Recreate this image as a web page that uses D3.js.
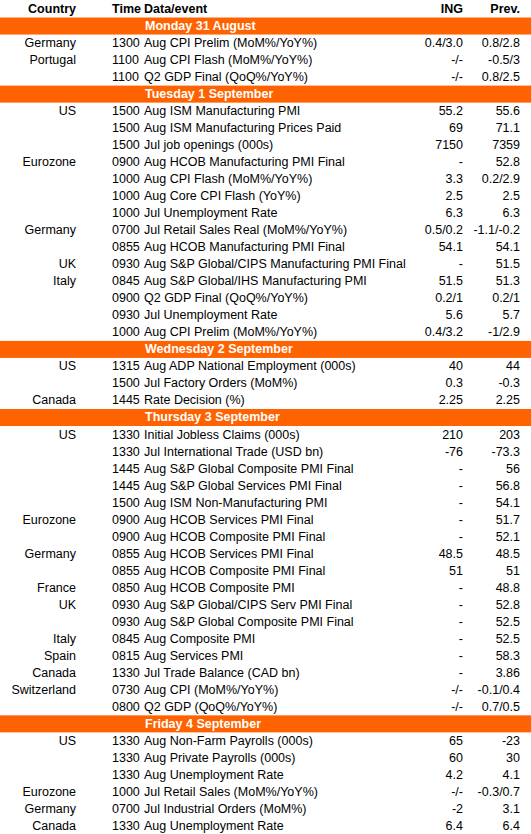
<!DOCTYPE html><html><head><meta charset="utf-8">
<script src="https://cdn.jsdelivr.net/npm/d3@7"></script>
<style>body{margin:0;background:#fff}</style></head><body><svg id="c" width="531" height="834"></svg>
<script>
const columns = ["Country","Time","Data/event","ING","Prev."];
const days = ["Monday 31 August","Tuesday 1 September","Wednesday 2 September","Thursday 3 September","Friday 4 September"];
const monday = [
["Germany","1300","Aug CPI Prelim (MoM%/YoY%)","0.4/3.0","0.8/2.8"],
["Portugal","1100","Aug CPI Flash (MoM%/YoY%)","-/-","-0.5/3"],
["","1100","Q2 GDP Final (QoQ%/YoY%)","-/-","0.8/2.5"]];
const tuesday = [
["US","1500","Aug ISM Manufacturing PMI","55.2","55.6"],
["","1500","Aug ISM Manufacturing Prices Paid","69","71.1"],
["","1500","Jul job openings (000s)","7150","7359"],
["Eurozone","0900","Aug HCOB Manufacturing PMI Final","-","52.8"],
["","1000","Aug CPI Flash (MoM%/YoY%)","3.3","0.2/2.9"],
["","1000","Aug Core CPI Flash (YoY%)","2.5","2.5"],
["","1000","Jul Unemployment Rate","6.3","6.3"],
["Germany","0700","Jul Retail Sales Real (MoM%/YoY%)","0.5/0.2","-1.1/-0.2"],
["","0855","Aug HCOB Manufacturing PMI Final","54.1","54.1"],
["UK","0930","Aug S&P Global/CIPS Manufacturing PMI Final","-","51.5"],
["Italy","0845","Aug S&P Global/IHS Manufacturing PMI","51.5","51.3"],
["","0900","Q2 GDP Final (QoQ%/YoY%)","0.2/1","0.2/1"],
["","0930","Jul Unemployment Rate","5.6","5.7"],
["","1000","Aug CPI Prelim (MoM%/YoY%)","0.4/3.2","-1/2.9"]];
const wednesday = [
["US","1315","Aug ADP National Employment (000s)","40","44"],
["","1500","Jul Factory Orders (MoM%)","0.3","-0.3"],
["Canada","1445","Rate Decision (%)","2.25","2.25"]];
const thursday = [
["US","1330","Initial Jobless Claims (000s)","210","203"],
["","1330","Jul International Trade (USD bn)","-76","-73.3"],
["","1445","Aug S&P Global Composite PMI Final","-","56"],
["","1445","Aug S&P Global Services PMI Final","-","56.8"],
["","1500","Aug ISM Non-Manufacturing PMI","-","54.1"],
["Eurozone","0900","Aug HCOB Services PMI Final","-","51.7"],
["","0900","Aug HCOB Composite PMI Final","-","52.1"],
["Germany","0855","Aug HCOB Services PMI Final","48.5","48.5"],
["","0855","Aug HCOB Composite PMI Final","51","51"],
["France","0850","Aug HCOB Composite PMI","-","48.8"],
["UK","0930","Aug S&P Global/CIPS Serv PMI Final","-","52.8"],
["","0930","Aug S&P Global Composite PMI Final","-","52.5"],
["Italy","0845","Aug Composite PMI","-","52.5"],
["Spain","0815","Aug Services PMI","-","58.3"],
["Canada","1330","Jul Trade Balance (CAD bn)","-","3.86"],
["Switzerland","0730","Aug CPI (MoM%/YoY%)","-/-","-0.1/0.4"],
["","0800","Q2 GDP (QoQ%/YoY%)","-/-","0.7/0.5"]];
const friday = [
["US","1330","Aug Non-Farm Payrolls (000s)","65","-23"],
["","1330","Aug Private Payrolls (000s)","60","30"],
["","1330","Aug Unemployment Rate","4.2","4.1"],
["Eurozone","1000","Jul Retail Sales (MoM%/YoY%)","-/-","-0.3/0.7"],
["Germany","0700","Jul Industrial Orders (MoM%)","-2","3.1"],
["Canada","1330","Aug Unemployment Rate","6.4","6.4"]];
const groups=[monday,tuesday,wednesday,thursday,friday];
const rows=[{t:"head"}];
groups.forEach((g,i)=>{rows.push({t:"day",label:days[i]});g.forEach(r=>rows.push({t:"row",v:r}));});
const svg=d3.select("#c");
const y=d3.scaleBand().domain(d3.range(rows.length)).range([0,834]).paddingInner(0);
const colX=[76,112,144,463,520], anchors=["end","start","start","end","end"];
const font="'Liberation Sans',Arial,sans-serif";
const g=svg.selectAll("g.r").data(rows).join("g").attr("transform",(d,i)=>`translate(0,${y(i)})`);
const h=y.bandwidth();
g.filter(d=>d.t==="day").append("rect").attr("x",0).attr("width",531).attr("y",0.5).attr("height",h).attr("fill","#FF6200");
g.filter(d=>d.t==="day").append("text").attr("x",145).attr("y",h/2+4.5).attr("fill","#fff").attr("font-weight","bold").attr("font-family",font).attr("font-size",12.5).text(d=>d.label);
g.filter(d=>d.t==="head").selectAll("text").data(columns).join("text").attr("x",(d,i)=>colX[i]).attr("text-anchor",(d,i)=>anchors[i]).attr("y",h/2+4).attr("font-weight","bold").attr("font-family",font).attr("font-size",12.5).attr("fill","#000").text(d=>d);
g.filter(d=>d.t==="row").selectAll("text").data(d=>d.v).join("text").attr("x",(d,i)=>colX[i]).attr("text-anchor",(d,i)=>anchors[i]).attr("y",h/2+4.5).attr("font-family",font).attr("font-size",12.5).attr("fill","#000").text(d=>d);
</script></body></html>
